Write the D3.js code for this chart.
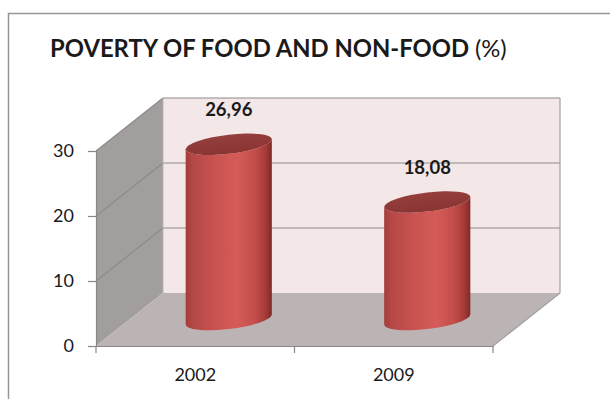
<!DOCTYPE html>
<html>
<head>
<meta charset="utf-8">
<script src="https://cdn.jsdelivr.net/npm/d3@7"></script>
<style>
  html, body { margin: 0; padding: 0; background: #fff; }
  svg { display: block; }
  text { font-family: Lato, "Open Sans", sans-serif; fill: #1a1a1a; }
</style>
</head>
<body>
<svg id="chart" width="610" height="399"></svg>
<script>
// Poverty rate (food and non-food), percent
const titleText = "POVERTY OF FOOD AND NON-FOOD";
const titleUnit = "(%)";
const years = ["2002", "2009"];
const poverty = [26.96, 18.08];
const valueLabels = ["26,96", "18,08"];
const yTicks = [0, 10, 20, 30];

(function draw() {
const svg = d3.select("#chart");

// Plot box (front face) and depth offset for the 3-D walls
const front = { left: 96, right: 493, bottom: 346, top: 151 };
const depth = { dx: 67, dy: -53 };

const x = d3.scaleBand().domain(years).range([front.left, front.right]).paddingInner(0).paddingOuter(0);
const y = d3.scaleLinear().domain([0, 30]).range([front.bottom, front.top]);

// Outer chart border (runs off the right and bottom edges)
svg.append("rect")
  .attr("x", 8.5).attr("y", 13.5).attr("width", 700).attr("height", 500)
  .attr("fill", "#fff").attr("stroke", "#969696").attr("stroke-width", 1.5);

// Title, fitted to its line width
const title = svg.append("text").attr("x", 50).attr("y", 57).attr("font-size", 20);
title.append("tspan").attr("font-weight", 700).text(titleText + " ");
title.append("tspan").attr("font-weight", 400).text(titleUnit);
const tw = title.node().getComputedTextLength();
title.attr("font-size", 20 * 457 / tw);

const gridColor = "#8e8a8a";
const back = v => y(v) + depth.dy;
const bx0 = front.left + depth.dx, bx1 = front.right + depth.dx;

// Back wall
svg.append("path")
  .attr("d", `M${bx0},${back(30)}L${bx1},${back(30)}L${bx1},${back(0)}L${bx0},${back(0)}Z`)
  .attr("fill", "#f3e7e8");

// Side wall
svg.append("path")
  .attr("d", `M${front.left},${y(0)}L${front.left},${y(30)}L${bx0},${back(30)}L${bx0},${back(0)}Z`)
  .attr("fill", "#a39e9e");

// Floor
svg.append("path")
  .attr("d", `M${front.left},${y(0)}L${front.right},${y(0)}L${bx1},${back(0)}L${bx0},${back(0)}Z`)
  .attr("fill", "#bcb4b4");

// Gridlines on back wall and side wall
const grid = svg.append("g").attr("stroke", gridColor).attr("stroke-width", 1.2).attr("fill", "none");
yTicks.filter(v => v > 0).forEach(v => {
  grid.append("line").attr("x1", bx0).attr("x2", bx1).attr("y1", back(v)).attr("y2", back(v));
  grid.append("line").attr("x1", front.left).attr("x2", bx0).attr("y1", y(v)).attr("y2", back(v));
});
// Wall edges
grid.append("line").attr("x1", bx1).attr("x2", bx1).attr("y1", back(30)).attr("y2", back(0)).attr("stroke", "#a0a0a0");
grid.append("line").attr("x1", front.right).attr("x2", bx1).attr("y1", y(0)).attr("y2", back(0)).attr("stroke", "#a0a0a0");
grid.append("line").attr("x1", bx0).attr("x2", bx0).attr("y1", back(30)).attr("y2", back(0)).attr("stroke", "#b8b0b0").attr("stroke-width", 0.8);

// Y axis on the front-left edge
const yAxis = d3.axisLeft(y).tickValues(yTicks).tickSize(8).tickPadding(14).tickFormat(d3.format("d"));
const ya = svg.append("g").attr("transform", `translate(${front.left},0)`).call(yAxis);
ya.select(".domain").attr("stroke", "#888").attr("stroke-width", 1.2);
ya.selectAll(".tick line").attr("stroke", "#888").attr("stroke-width", 1.2);
ya.selectAll(".tick text").attr("font-size", 18).attr("fill", "#1a1a1a")
  .attr("font-family", "Lato, 'Open Sans', sans-serif");

// X axis along the front floor edge
const xAxis = d3.axisBottom(x).tickSize(0).tickPadding(22);
const xa = svg.append("g").attr("transform", `translate(0,${front.bottom})`).call(xAxis);
xa.select(".domain").attr("stroke", "#888").attr("stroke-width", 1.2);
xa.selectAll(".tick text").attr("font-size", 18).attr("fill", "#1a1a1a")
  .attr("font-family", "Lato, 'Open Sans', sans-serif");
// Category boundary ticks
const bounds = [front.left].concat(years.map(c => x(c) + x.bandwidth()));
xa.selectAll(".bound").data(bounds).join("line").attr("class", "bound")
  .attr("x1", d => d).attr("x2", d => d).attr("y1", 0).attr("y2", 7)
  .attr("stroke", "#888").attr("stroke-width", 1.2);

// Cylinder shading
const defs = svg.append("defs");
const body = defs.append("linearGradient").attr("id", "cylBody").attr("x1", 0).attr("x2", 1).attr("y1", 0).attr("y2", 0);
[[0, "#a33c3a"], [0.08, "#b44846"], [0.35, "#c95350"], [0.6, "#d45b58"], [0.8, "#c44e4c"], [0.93, "#a43a38"], [1, "#7e2a28"]]
  .forEach(([o, c]) => body.append("stop").attr("offset", o).attr("stop-color", c));
const cap = defs.append("linearGradient").attr("id", "cylTop").attr("x1", 0).attr("x2", 0).attr("y1", 0).attr("y2", 1);
[[0, "#953f3d"], [1, "#8a3533"]].forEach(([o, c]) => cap.append("stop").attr("offset", o).attr("stop-color", c));

// Cylinders sit halfway into the depth
const mid = { dx: depth.dx / 2, dy: depth.dy / 2 };
const rx = x.bandwidth() * 0.217, ry = 9.5, skew = -6.5;
const bars = svg.append("g");
years.forEach((yr, i) => {
  const cx = x(yr) + x.bandwidth() / 2 + mid.dx;
  const yb = y(0) + mid.dy;
  const yt = y(poverty[i]) + mid.dy;
  const g = bars.append("g").attr("transform", `translate(${cx},0) skewY(${skew})`);
  g.append("path")
    .attr("d", `M${-rx},${yt}L${-rx},${yb}A${rx},${ry} 0 0 0 ${rx},${yb}L${rx},${yt}A${rx},${ry} 0 0 1 ${-rx},${yt}Z`)
    .attr("fill", "url(#cylBody)");
  g.append("ellipse").attr("cx", 0).attr("cy", yt).attr("rx", rx).attr("ry", ry)
    .attr("fill", "url(#cylTop)");
  svg.append("text")
    .attr("x", cx).attr("y", yt - 28)
    .attr("text-anchor", "middle").attr("font-size", 18.5).attr("font-weight", 700)
    .text(valueLabels[i]);
});
})();
</script>
</body>
</html>
